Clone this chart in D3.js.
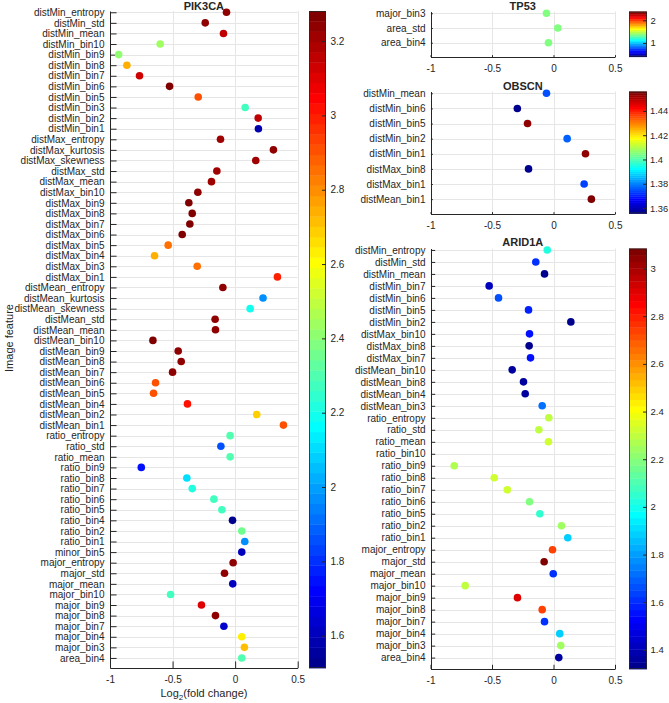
<!DOCTYPE html>
<html>
<head>
<meta charset="utf-8">
<script src="https://cdn.jsdelivr.net/npm/d3@7"></script>
<style>
  html, body { margin: 0; padding: 0; background: #fff; }
  svg { display: block; }
  text { font-family: "Liberation Sans", Arial, Helvetica, sans-serif; fill: #262626; }
</style>
</head>
<body>
<svg id="chart" width="669" height="703"></svg>
<script>
// ---------------- DATA ----------------
const xTickValues = [-1, -0.5, 0, 0.5];
const xTickLabels = ["-1", "-0.5", "0", "0.5"];

const pik3caFeatures = ["distMin_entropy","distMin_std","distMin_mean","distMin_bin10","distMin_bin9","distMin_bin8","distMin_bin7","distMin_bin6","distMin_bin5","distMin_bin3","distMin_bin2","distMin_bin1","distMax_entropy","distMax_kurtosis","distMax_skewness","distMax_std","distMax_mean","distMax_bin10","distMax_bin9","distMax_bin8","distMax_bin7","distMax_bin6","distMax_bin5","distMax_bin4","distMax_bin3","distMax_bin1","distMean_entropy","distMean_kurtosis","distMean_skewness","distMean_std","distMean_mean","distMean_bin10","distMean_bin9","distMean_bin8","distMean_bin7","distMean_bin6","distMean_bin5","distMean_bin4","distMean_bin2","distMean_bin1","ratio_entropy","ratio_std","ratio_mean","ratio_bin9","ratio_bin8","ratio_bin7","ratio_bin6","ratio_bin5","ratio_bin4","ratio_bin2","ratio_bin1","minor_bin5","major_entropy","major_std","major_mean","major_bin10","major_bin9","major_bin8","major_bin7","major_bin4","major_bin3","area_bin4"];
const pik3caLog2FC = [-0.069,-0.239,-0.093,-0.599,-0.931,-0.865,-0.764,-0.524,-0.295,0.080,0.184,0.186,-0.117,0.306,0.165,-0.146,-0.189,-0.298,-0.370,-0.343,-0.362,-0.423,-0.535,-0.644,-0.303,0.338,-0.098,0.223,0.120,-0.160,-0.157,-0.657,-0.455,-0.431,-0.500,-0.636,-0.652,-0.381,0.173,0.386,-0.040,-0.114,-0.040,-0.750,-0.386,-0.343,-0.170,-0.106,-0.021,0.053,0.077,0.053,-0.016,-0.085,-0.019,-0.516,-0.269,-0.157,-0.090,0.053,0.074,0.053];
const pik3caColorValue = [3.25,3.24,3.15,2.45,2.40,2.75,3.12,3.27,2.90,2.28,3.15,1.57,3.20,3.25,3.22,3.22,3.20,3.25,3.27,3.27,3.27,3.27,2.86,2.73,2.84,3.00,3.25,1.96,2.20,3.25,3.25,3.27,3.25,3.25,3.25,2.90,2.90,3.02,2.68,2.90,2.30,1.87,2.30,1.75,2.12,2.22,2.28,2.27,1.54,2.35,1.98,1.62,3.25,3.25,1.62,2.28,3.10,3.25,1.64,2.63,2.72,2.30];
const pik3caColorLimits = [1.513, 3.281];
const pik3caColorTicks = [1.6, 1.8, 2, 2.2, 2.4, 2.6, 2.8, 3, 3.2];

const tp53Features = ["major_bin3","area_std","area_bin4"];
const tp53Log2FC = [-0.057, 0.035, -0.041];
const tp53ColorValue = [1.39, 1.39, 1.39];
const tp53ColorLimits = [0.39, 2.39];
const tp53ColorTicks = [1, 2];

const obscnFeatures = ["distMin_mean","distMin_bin6","distMin_bin5","distMin_bin2","distMin_bin1","distMax_bin8","distMax_bin1","distMean_bin1"];
const obscnLog2FC = [-0.057,-0.294,-0.211,0.111,0.260,-0.203,0.249,0.308];
const obscnColorValue = [1.375,1.356,1.454,1.376,1.453,1.357,1.374,1.455];
const obscnColorLimits = [1.3555, 1.456];
const obscnColorTicks = [1.36, 1.38, 1.4, 1.42, 1.44];

const arid1aFeatures = ["distMin_entropy","distMin_std","distMin_mean","distMin_bin7","distMin_bin6","distMin_bin5","distMin_bin2","distMax_bin10","distMax_bin8","distMax_bin7","distMean_bin10","distMean_bin8","distMean_bin4","distMean_bin3","ratio_entropy","ratio_std","ratio_mean","ratio_bin10","ratio_bin9","ratio_bin8","ratio_bin7","ratio_bin6","ratio_bin5","ratio_bin2","ratio_bin1","major_entropy","major_std","major_mean","major_bin10","major_bin9","major_bin8","major_bin7","major_bin4","major_bin3","area_bin4"];
const arid1aLog2FC = [-0.051,-0.144,-0.073,-0.523,-0.447,-0.203,0.141,-0.195,-0.198,-0.187,-0.336,-0.244,-0.230,-0.092,-0.038,-0.119,-0.041,null,-0.807,-0.482,-0.376,-0.195,-0.111,0.065,0.116,-0.008,-0.076,-0.002,-0.718,-0.293,-0.092,-0.073,0.051,0.059,0.043];
const arid1aColorValue = [2.02,1.60,1.34,1.43,1.66,1.57,1.34,1.55,1.33,1.56,1.35,1.37,1.36,1.73,2.31,2.30,2.32,null,2.27,2.33,2.32,2.20,2.05,2.25,1.88,2.75,3.08,1.60,2.30,2.91,2.75,1.62,1.88,2.25,1.35];
const arid1aColorLimits = [1.32, 3.084];
const arid1aColorTicks = [1.4, 1.6, 1.8, 2, 2.2, 2.4, 2.6, 2.8, 3];

// ---------------- COLORMAP (MATLAB jet, 64 levels) ----------------
function jet(m) {
  const n = Math.ceil(m / 4);
  const u = [];
  for (let i = 1; i <= n; i++) u.push(i / n);
  for (let i = 0; i < n - 1; i++) u.push(1);
  for (let i = n; i >= 1; i--) u.push(i / n);
  const off = Math.ceil(n / 2) - (m % 4 === 1 ? 1 : 0);
  const g = u.map((_, i) => off + i + 1);
  const r = g.map(v => v + n);
  const b = g.map(v => v - n);
  const J = d3.range(m).map(() => [0, 0, 0]);
  r.forEach((ri, k) => { if (ri >= 1 && ri <= m) J[ri - 1][0] = u[k]; });
  g.forEach((gi, k) => { if (gi >= 1 && gi <= m) J[gi - 1][1] = u[k]; });
  const bb = b.filter(v => v >= 1 && v <= m);
  const ub = u.slice(u.length - bb.length);
  bb.forEach((bi, k) => { J[bi - 1][2] = ub[k]; });
  return J.map(c => d3.rgb(Math.round(c[0] * 255), Math.round(c[1] * 255), Math.round(c[2] * 255)).formatHex());
}
const JET = jet(64);
function jetColor(v, lim) {
  let idx = Math.floor((v - lim[0]) / (lim[1] - lim[0]) * 64);
  idx = Math.max(0, Math.min(63, idx));
  return JET[idx];
}

// ---------------- DRAW ----------------
const svg = d3.select("#chart");
const AXC = "#262626";
const GRID = "#e6e6e6";
const FONT = 10;

function panel(cfg) {
  const { title, features, values, colors, clim, cticks, x0, x1, top, bottom, cbX0, cbX1, titleY, cbFont, cbPad } = cfg;
  const n = features.length;
  const x = d3.scaleLinear().domain([-1, 0.5]).range([x0, x1]);
  const y = d3.scaleLinear().domain([0.88, n + 0.95]).range([top, bottom]);
  const g = svg.append("g");
  const tickLen = 0.01 * Math.max(x1 - x0, bottom - top);

  // grid
  g.append("g").selectAll("line").data(d3.range(1, n + 1)).join("line")
    .attr("x1", x0).attr("x2", x1)
    .attr("y1", d => Math.round(y(d)) + 0.5).attr("y2", d => Math.round(y(d)) + 0.5)
    .attr("stroke", GRID).attr("stroke-width", 1);
  g.append("g").selectAll("line").data(xTickValues.slice(1)).join("line")
    .attr("x1", d => Math.round(x(d)) + 0.5).attr("x2", d => Math.round(x(d)) + 0.5)
    .attr("y1", top).attr("y2", bottom)
    .attr("stroke", GRID).attr("stroke-width", 1);

  // axes
  const yAxis = d3.axisLeft(y).tickValues(d3.range(1, n + 1))
    .tickFormat(i => features[i - 1]).tickSizeInner(-tickLen).tickSizeOuter(0).tickPadding(5.5);
  const ya = g.append("g").attr("transform", `translate(${Math.round(x0)},0)`).call(yAxis);
  const xAxis = d3.axisBottom(x).tickValues(xTickValues)
    .tickFormat((d, i) => xTickLabels[i]).tickSizeInner(-tickLen).tickSizeOuter(0).tickPadding(8);
  const xa = g.append("g").attr("transform", `translate(0,${Math.round(bottom)})`).call(xAxis);
  [ya, xa].forEach(a => {
    a.select(".domain").attr("stroke", AXC);
    a.selectAll(".tick line").attr("stroke", AXC);
    a.selectAll("text").attr("font-size", FONT).attr("fill", AXC)
      .attr("font-family", '"Liberation Sans", Arial, sans-serif');
  });

  // points
  const pts = features.map((f, i) => ({ v: values[i], c: colors[i], row: i + 1 }))
    .filter(d => d.v !== null && d.c !== null);
  g.append("g").selectAll("circle").data(pts).join("circle")
    .attr("cx", d => x(d.v)).attr("cy", d => y(d.row)).attr("r", 3.8)
    .attr("fill", d => jetColor(d.c, clim));

  // title
  g.append("text").attr("x", (x0 + x1) / 2).attr("y", titleY)
    .attr("text-anchor", "middle").attr("font-weight", "bold").attr("font-size", 11)
    .text(title);

  // colorbar
  const cs = d3.scaleLinear().domain(clim).range([bottom, top]);
  const cb = g.append("g");
  const bandH = (bottom - top) / 64;
  cb.selectAll("rect").data(JET).join("rect")
    .attr("x", cbX0).attr("width", cbX1 - cbX0)
    .attr("y", (d, i) => bottom - (i + 1) * bandH).attr("height", bandH + 0.4)
    .attr("fill", d => d);
  cb.append("rect").attr("x", cbX0 + 0.5).attr("y", top + 0.5)
    .attr("width", cbX1 - cbX0 - 1).attr("height", bottom - top - 1)
    .attr("fill", "none").attr("stroke", AXC).attr("stroke-width", 0.8);
  const cAxis = d3.axisRight(cs).tickValues(cticks).tickFormat(d => String(+d.toFixed(2)))
    .tickSizeInner(-4).tickSizeOuter(0).tickPadding(cbPad);
  const ca = g.append("g").attr("transform", `translate(${cbX1},0)`).call(cAxis);
  ca.select(".domain").remove();
  ca.selectAll(".tick line").attr("stroke", AXC);
  ca.selectAll("text").attr("font-size", cbFont).attr("fill", AXC)
    .attr("font-family", '"Liberation Sans", Arial, sans-serif');
  return { x, y };
}

panel({ title: "PIK3CA", features: pik3caFeatures, values: pik3caLog2FC, colors: pik3caColorValue,
  clim: pik3caColorLimits, cticks: pik3caColorTicks, x0: 110, x1: 297.7, top: 11, bottom: 668,
  cbX0: 309, cbX1: 326, titleY: 9.5, cbFont: 10, cbPad: 4.5 });
panel({ title: "TP53", features: tp53Features, values: tp53Log2FC, colors: tp53ColorValue,
  clim: tp53ColorLimits, cticks: tp53ColorTicks, x0: 430.5, x1: 615, top: 11.5, bottom: 56.7,
  cbX0: 629, cbX1: 647, titleY: 9.5, cbFont: 9.5, cbPad: 3.5 });
panel({ title: "OBSCN", features: obscnFeatures, values: obscnLog2FC, colors: obscnColorValue,
  clim: obscnColorLimits, cticks: obscnColorTicks, x0: 430.5, x1: 615, top: 91.5, bottom: 213.5,
  cbX0: 629, cbX1: 647, titleY: 90, cbFont: 9.3, cbPad: 3 });
panel({ title: "ARID1A", features: arid1aFeatures, values: arid1aLog2FC, colors: arid1aColorValue,
  clim: arid1aColorLimits, cticks: arid1aColorTicks, x0: 430.5, x1: 615, top: 248.5, bottom: 669,
  cbX0: 629, cbX1: 647, titleY: 246, cbFont: 9.5, cbPad: 3.5 });

// axis labels
const xl = svg.append("text").attr("x", 204).attr("y", 697).attr("text-anchor", "middle").attr("font-size", 11);
xl.append("tspan").text("Log");
xl.append("tspan").attr("font-size", 8).attr("dy", 3).text("2");
xl.append("tspan").attr("dy", -3).text("(fold change)");
svg.append("text").attr("transform", "translate(9,338) rotate(-90)")
  .attr("text-anchor", "middle").attr("dominant-baseline", "central").attr("font-size", 11)
  .text("Image feature");
</script>
</body>
</html>
